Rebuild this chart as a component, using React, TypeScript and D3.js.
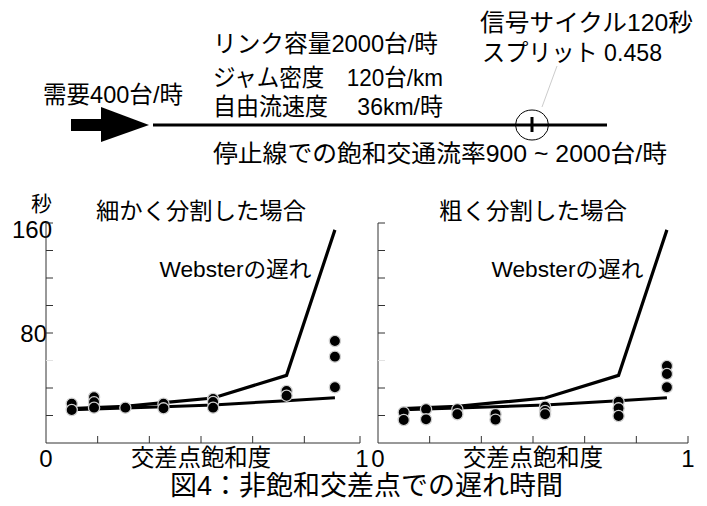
import React from "react";
import * as d3 from "d3";

// ---- data ----
const saturation = [0.083, 0.155, 0.256, 0.379, 0.539, 0.776, 0.932];
const websterDelay = [25, 25.7, 26.6, 29.3, 32.7, 49.2, 155];
const meanDelay = [24.2, 24.8, 25.5, 26.4, 27.6, 30.8, 32.9];
const fineDelays = [
  [28.5, 24.0],
  [33.3, 29.6, 25.7],
  [25.7],
  [28.6, 25.2],
  [32, 29.8, 25.7],
  [37.8, 34.4],
  [74.2, 62.8, 40.5],
];
const coarseDelays = [
  [22.3, 16.7],
  [24.5, 17.2],
  [24.5, 20.9],
  [21, 17],
  [26.4, 23.3, 20.9],
  [30, 25.2, 19.6],
  [56, 50.2, 40.5],
];
const yTicks = [20, 40, 60, 80, 100, 120, 140, 160];
const yTickLabels = [160, 80];
const xTicks = [1 / 6, 2 / 6, 3 / 6, 4 / 6, 5 / 6, 1];
const xTickLabels = ["0", "1"];
const panelTitles = ["細かく分割した場合", "粗く分割した場合"];
const websterLabel = "Websterの遅れ";
const xAxisTitle = "交差点飽和度";
const yUnit = "秒";
const caption = "図4：非飽和交差点での遅れ時間";

const FONT = "'Liberation Sans', Arial, 'Noto Sans CJK JP', sans-serif";

type Panel = { x0: number; title: string; titleW: number; data: number[][] };

const panels: Panel[] = [
  { x0: 46, title: panelTitles[0], titleW: 210, data: fineDelays },
  { x0: 378, title: panelTitles[1], titleW: 188, data: coarseDelays },
];

const PW = 310;
const y = d3.scaleLinear().domain([0, 160]).range([443, 223]);

function ChartPanel({ p, idx }: { p: Panel; idx: number }) {
  const x = d3.scaleLinear().domain([0, 1]).range([p.x0, p.x0 + PW]);
  const line = d3
    .line<number>()
    .x((_, i) => x(saturation[i]))
    .y((d) => y(d));
  const pts: { cx: number; cy: number; k: string }[] = [];
  p.data.forEach((vals, i) =>
    vals.forEach((v, j) => pts.push({ cx: x(saturation[i]), cy: y(v), k: `${i}-${j}` }))
  );
  const cx = p.x0 + PW / 2;
  const endShift = idx === 0 ? 4 : 0;
  return (
    <g>
      {/* axes */}
      <line x1={x(0)} x2={x(0)} y1={y(0)} y2={y(160)} stroke="#333" strokeWidth={1} />
      <line x1={x(0)} x2={x(1) + endShift} y1={y(0)} y2={y(0)} stroke="#333" strokeWidth={1} />
      {yTicks.map((t) => (
        <line
          key={t}
          x1={x(0)}
          x2={x(0) + 7}
          y1={y(t)}
          y2={y(t)}
          stroke={t === 60 ? "#e2e2e2" : "#333"}
          strokeWidth={1}
        />
      ))}
      {xTicks.map((t, i) => (
        <line
          key={i}
          x1={x(t) + (t === 1 ? endShift : 0)}
          x2={x(t) + (t === 1 ? endShift : 0)}
          y1={y(0)}
          y2={y(0) - 7}
          stroke="#333"
          strokeWidth={1}
        />
      ))}
      {/* x tick labels */}
      <text x={x(0)} y={467} fontSize={24} textAnchor="middle" fontFamily={FONT}>
        {xTickLabels[0]}
      </text>
      <text x={x(1) + (idx === 0 ? 6 : 0)} y={467} fontSize={24} textAnchor="middle" fontFamily={FONT}>
        {xTickLabels[1]}
      </text>
      <text
        x={cx}
        y={466}
        fontSize={24}
        textAnchor="middle"
        fontFamily={FONT}
        textLength={140}
        lengthAdjust="spacingAndGlyphs"
      >
        {xAxisTitle}
      </text>
      <text
        x={cx}
        y={219}
        fontSize={23}
        textAnchor="middle"
        fontFamily={FONT}
        textLength={p.titleW}
        lengthAdjust="spacingAndGlyphs"
      >
        {p.title}
      </text>
      <text
        x={x(0.366)}
        y={277}
        fontSize={22}
        fontFamily={FONT}
        textLength={152}
        lengthAdjust="spacingAndGlyphs"
      >
        {websterLabel}
      </text>
      {/* lines */}
      <path d={line(meanDelay) || ""} fill="none" stroke="#000" strokeWidth={3} strokeLinejoin="miter" />
      <path d={line(websterDelay) || ""} fill="none" stroke="#000" strokeWidth={3.2} strokeLinejoin="miter" />
      {/* points */}
      {pts.map((d) => (
        <circle key={d.k} cx={d.cx} cy={d.cy} r={5.6} fill="#000" stroke="#cfcfcf" strokeWidth={1.3} />
      ))}
    </g>
  );
}

const topTexts = [
  { t: "信号サイクル120秒", x: 480, y: 31, w: 213 },
  { t: "スプリット 0.458", x: 482, y: 61, w: 180 },
  { t: "リンク容量2000台/時", x: 213, y: 52, w: 225 },
  { t: "ジャム密度\u3000120台/km", x: 213, y: 86, w: 230 },
  { t: "自由流速度\u3000 36km/時", x: 213, y: 115, w: 230 },
  { t: "需要400台/時", x: 43, y: 103, w: 140 },
  { t: "停止線での飽和交通流率900 ~ 2000台/時", x: 213, y: 162, w: 454 },
];

export default function App() {
  return (
    <svg
      width={707}
      height={506}
      viewBox="0 0 707 506"
      style={{ position: "absolute", left: 0, top: 0, background: "#fff" }}
    >
      <rect width={707} height={506} fill="#fff" />
      {/* top diagram */}
      {topTexts.map((d) => (
        <text
          key={d.t}
          x={d.x}
          y={d.y}
          fontSize={24}
          fontFamily={FONT}
          textLength={d.w}
          lengthAdjust="spacingAndGlyphs"
          style={{ whiteSpace: "pre" }}
        >
          {d.t}
        </text>
      ))}
      <rect x={71} y={119} width={31} height={12} fill="#000" />
      <polygon points="101,107 149,125 101,142" fill="#000" />
      <line x1={153} x2={607} y1={125} y2={125} stroke="#000" strokeWidth={2.8} />
      <ellipse cx={532} cy={125} rx={16.5} ry={15} fill="none" stroke="#000" strokeWidth={1} />
      <line x1={532} x2={532} y1={117} y2={132} stroke="#000" strokeWidth={3} />
      <line x1={542} x2={557} y1={107} y2={66} stroke="#cccccc" strokeWidth={1} />

      {/* y unit and tick labels (left panel) */}
      <text x={41.5} y={211} fontSize={21} textAnchor="middle" fontFamily={FONT}>
        {yUnit}
      </text>
      {yTickLabels.map((v) => (
        <text
          key={v}
          x={v === 160 ? 52 : 47}
          y={y(v) + (v === 160 ? 15 : 9)}
          fontSize={24}
          textAnchor="end"
          fontFamily={FONT}
        >
          {v}
        </text>
      ))}

      {panels.map((p, i) => (
        <ChartPanel key={i} p={p} idx={i} />
      ))}

      <text
        x={366.5}
        y={495}
        fontSize={27}
        textAnchor="middle"
        fontFamily={FONT}
        textLength={393}
        lengthAdjust="spacingAndGlyphs"
      >
        {caption}
      </text>
    </svg>
  );
}
